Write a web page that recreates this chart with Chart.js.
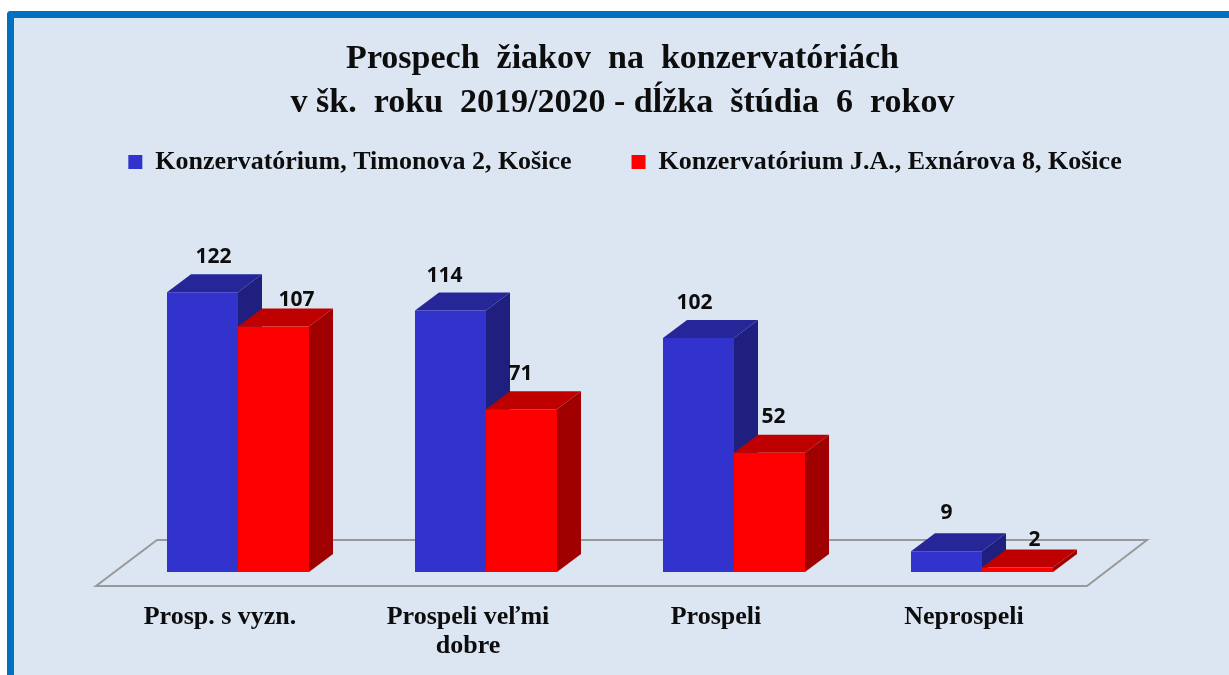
<!DOCTYPE html>
<html><head><meta charset="utf-8">
<script src="https://cdn.jsdelivr.net/npm/chart.js@4"></script>
<style>
html,body{margin:0;padding:0;background:#fff;overflow:hidden;width:1229px;height:675px}
#frame{position:absolute;left:7px;top:11px;width:1240px;height:680px;box-sizing:border-box;background:#dce6f2;border-left:7px solid #0070c0;border-top:7px solid #0070c0;border-top-left-radius:4px}
canvas{position:absolute;left:0;top:0}
</style></head><body>
<div id="frame"></div>
<canvas id="c" width="1229" height="675"></canvas>
<script>
const categories = [['Prosp. s vyzn.'], ['Prospeli veľmi', 'dobre'], ['Prospeli'], ['Neprospeli']];
const seriesNames = ['Konzervatórium, Timonova 2, Košice', 'Konzervatórium J.A., Exnárova 8, Košice'];
const timonova = [122, 114, 102, 9];
const exnarova = [107, 71, 52, 2];
const titleLines = ['Prospech  žiakov  na  konzervatóriách', 'v šk.  roku  2019/2020 - dĺžka  štúdia  6  rokov'];

const palette = [
  {front:'#3232cc', top:'#262699', side:'#1f1f80'},
  {front:'#ff0000', top:'#bf0000', side:'#a00000'}
];
const DX = 24, DY = 18;
const labelShift = [
  [[11,-35],[-6,-34],[-4,-35],[0,-38]],
  [[23,-27],[-1,-35],[4,-36],[17,-27]]
];

const shiftLegend = {
  id:'shiftLegend',
  afterLayout(chart){ chart.legend.left += 2.5; chart.legend.right += 2.5; }
};
const depth3d = {
  id:'depth3d',
  beforeDatasetsDraw(chart){
    const ctx = chart.ctx, x = chart.scales.x, y = chart.scales.y, b = y.getPixelForValue(0);
    ctx.save();
    ctx.strokeStyle = '#999999'; ctx.lineWidth = 2;
    ctx.beginPath();
    ctx.moveTo(x.left-18, b+14); ctx.lineTo(x.right-19, b+14);
    ctx.lineTo(x.right+41, b-32); ctx.lineTo(x.left+43, b-32);
    ctx.closePath(); ctx.stroke();
    [0,1].forEach(di=>{
      chart.getDatasetMeta(di).data.forEach(bar=>{
        const p = bar.getProps(['x','y','base','width'], true);
        const l = p.x-p.width/2, r = p.x+p.width/2;
        ctx.fillStyle = palette[di].top;
        ctx.beginPath(); ctx.moveTo(l,p.y); ctx.lineTo(l+DX,p.y-DY); ctx.lineTo(r+DX,p.y-DY); ctx.lineTo(r,p.y); ctx.closePath(); ctx.fill();
        ctx.fillStyle = palette[di].side;
        ctx.beginPath(); ctx.moveTo(r,p.y); ctx.lineTo(r+DX,p.y-DY); ctx.lineTo(r+DX,p.base-DY); ctx.lineTo(r,p.base); ctx.closePath(); ctx.fill();
      });
    });
    ctx.restore();
  },
  afterDatasetsDraw(chart){
    const ctx = chart.ctx;
    ctx.save();
    ctx.font = 'bold 21px "Open Sans"';
    ctx.fillStyle = '#0d0d0d'; ctx.textAlign = 'center'; ctx.textBaseline = 'middle';
    [0,1].forEach(di=>{
      const values = chart.data.datasets[di].data;
      chart.getDatasetMeta(di).data.forEach((bar,i)=>{
        const p = bar.getProps(['x','y'], true);
        ctx.fillText(String(values[i]), p.x+labelShift[di][i][0], p.y+labelShift[di][i][1]);
      });
    });
    ctx.restore();
  }
};

new Chart(document.getElementById('c'), {
  type:'bar',
  data:{
    labels:categories,
    datasets:[
      {label:seriesNames[0], data:timonova, backgroundColor:palette[0].front, borderWidth:0},
      {label:seriesNames[1], data:exnarova, backgroundColor:palette[1].front, borderWidth:0}
    ]
  },
  options:{
    responsive:false, animation:false, maintainAspectRatio:false,
    layout:{padding:{left:16,right:0,top:0,bottom:-17}},
    plugins:{
      tooltip:{enabled:false},
      title:{display:true,text:titleLines,color:'#0d0d0d',
        font:{family:'"Liberation Serif"',size:34,weight:'bold',lineHeight:1.294},
        padding:{top:37,bottom:-36}},
      legend:{display:true,position:'top',
        labels:{color:'#0d0d0d',boxWidth:14,boxHeight:14,padding:60,
          font:{family:'"Liberation Serif"',size:26,weight:'bold'}}}
    },
    scales:{
      x:{grid:{display:false,drawTicks:false},border:{display:false},
        ticks:{color:'#0d0d0d',padding:31,labelOffset:-18,maxRotation:0,autoSkip:false,
          font:{family:'"Liberation Serif"',size:26,weight:'bold',lineHeight:1.115}}},
      y:{min:0,max:168.7,grid:{display:false},border:{display:false},ticks:{display:false},
        afterFit(s){s.width=98;}},
      y2:{position:'right',min:0,max:168.7,grid:{display:false},border:{display:false},ticks:{display:false},
        afterFit(s){s.width=123;}}
    },
    datasets:{bar:{categoryPercentage:0.5726,barPercentage:1}}
  },
  plugins:[shiftLegend,depth3d]
});
</script>
</body></html>
